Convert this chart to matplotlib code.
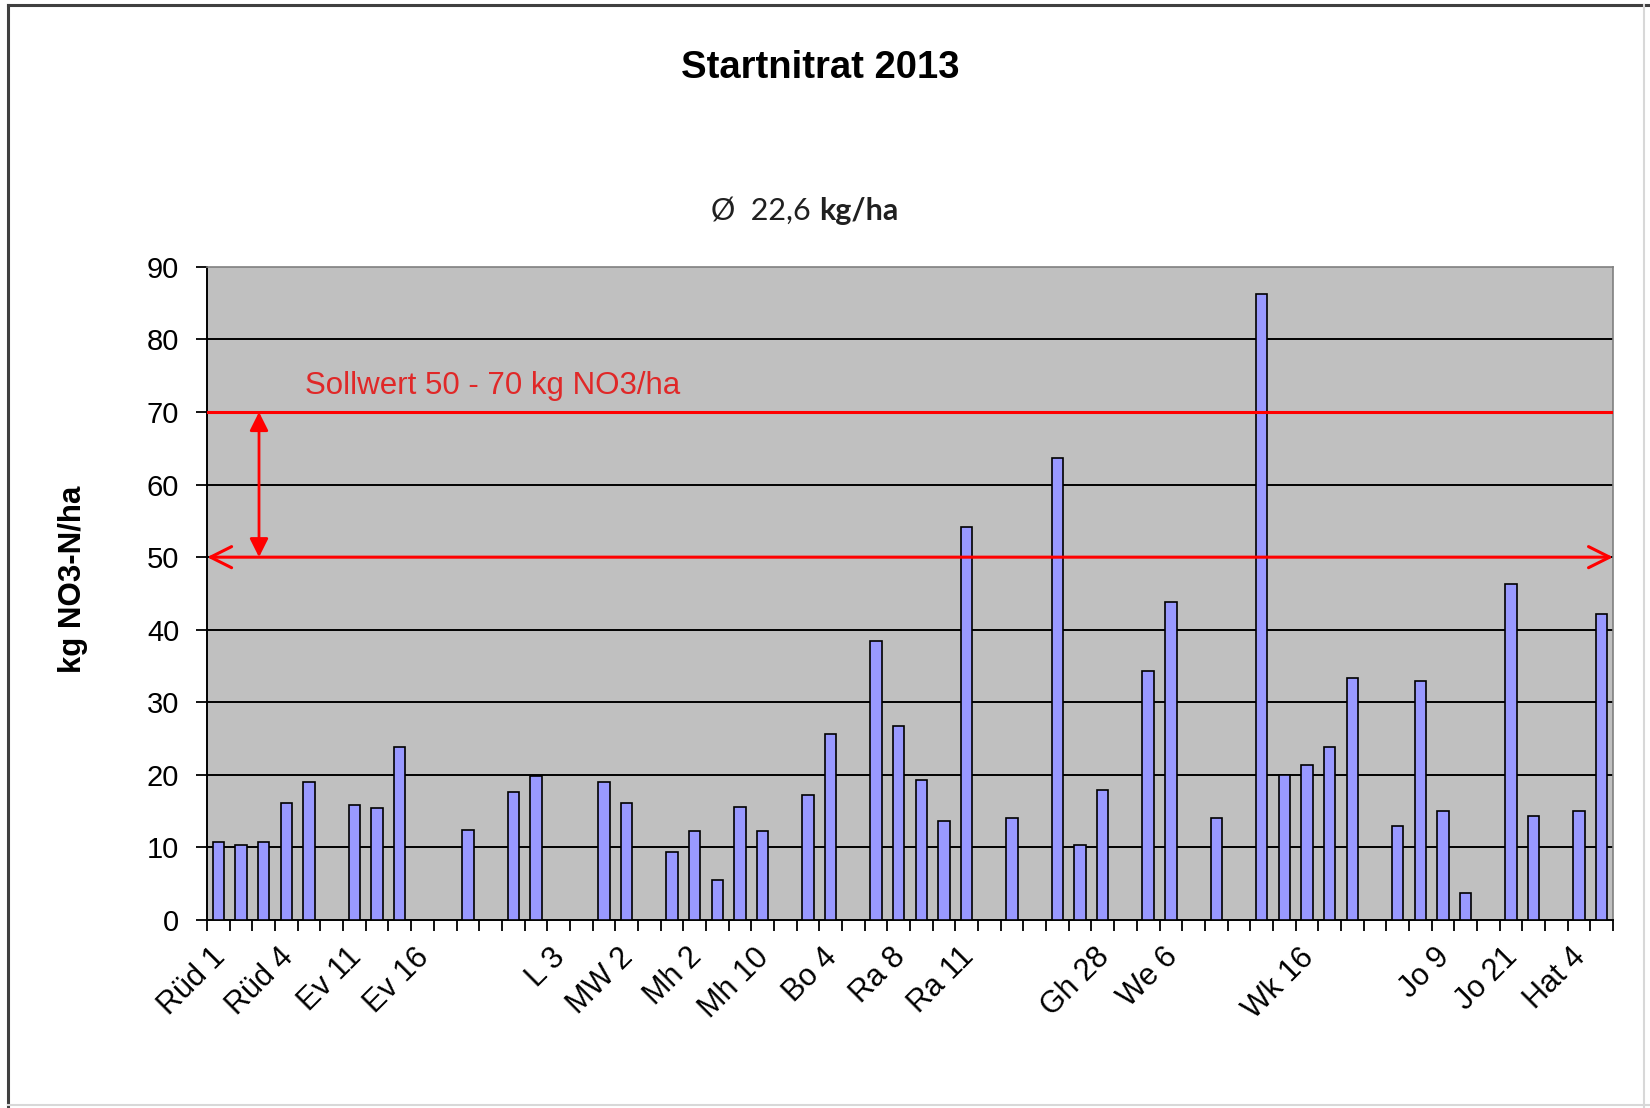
import numpy as np
import matplotlib
matplotlib.use("Agg")
import matplotlib.pyplot as plt
from matplotlib.lines import Line2D
from matplotlib.transforms import ScaledTranslation

plt.rcParams['font.family'] = ['Liberation Sans', 'DejaVu Sans']

# Startnitrat je Schlag (kg NO3-N/ha), None = Leerzeile
nitrat = [10.8, 10.3, 10.8, 16.1, 19.0, None, 15.8, 15.5, 23.8, None,
          None, 12.4, None, 17.7, 19.8, None, None, 19.0, 16.1, None,
          9.3, 12.2, 5.5, 15.6, 12.2, None, 17.2, 25.6, None, 38.5,
          26.7, 19.3, 13.7, 54.1, None, 14.0, None, 63.7, 10.3, 17.9,
          None, 34.3, 43.8, None, 14.0, None, 86.2, 20.0, 21.4, 23.8,
          33.4, None, 12.9, 33.0, 15.0, 3.7, None, 46.3, 14.3, None,
          15.0, 42.2]
# jede dritte Kategorie beschriftet
tick_labels = ["Rüd 1", "Rüd 4", "Ev 11", "Ev 16", "", "L 3", "MW 2",
               "Mh 2", "Mh 10", "Bo 4", "Ra 8", "Ra 11", "", "Gh 28",
               "We 6", "", "Wk 16", "", "Jo 9", "Jo 21", "Hat 4"]
label_step = 3
soll_min, soll_max = 50, 70
mittel = "22,6"

vals = np.array([np.nan if v is None else v for v in nitrat])
x = np.arange(len(vals))

fig = plt.figure(figsize=(16.5, 11.08), dpi=100)
ax = fig.add_axes([0.1255, 0.1697, 0.8521, 0.5894])
ax.set_facecolor('#C0C0C0')

ax.set_ylim(0, 90)
ax.set_xlim(-0.5, len(vals) - 0.5)
ax.set_yticks(range(0, 91, 10))
ax.tick_params(axis='y', labelsize=21, length=8, width=1.3, pad=12, direction='out')
for yv in range(10, 90, 10):
    ax.axhline(yv, color='black', lw=1.4, zorder=1)

ax.bar(x, vals, width=0.5, color='#9999FF', edgecolor='black', lw=1.2, zorder=3)

# Kategoriegrenzen als Ticks, Beschriftung jede dritte Kategorie
ax.set_xticks(np.arange(-0.5, len(vals)), minor=True)
ax.tick_params(axis='x', which='minor', length=8, width=1.3, direction='out')
ax.set_xticks(x[::label_step])
ax.set_xticklabels(tick_labels, rotation=45, ha='right', va='top',
                   rotation_mode='anchor', fontsize=22)
ax.tick_params(axis='x', which='major', length=0, pad=16)
shift = ScaledTranslation(-6 / 72, 0, fig.dpi_scale_trans)
for lab in ax.get_xticklabels():
    lab.set_transform(lab.get_transform() + shift)

for s in ['left', 'bottom']:
    ax.spines[s].set_color('black')
    ax.spines[s].set_linewidth(1.4)
for s in ['top', 'right']:
    ax.spines[s].set_color('#808080')
    ax.spines[s].set_linewidth(1.2)

# Sollwert-Bereich
ax.axhline(soll_max, color='#FF0000', lw=2.2, zorder=4)
ax.annotate('', xy=(-0.5, soll_min), xytext=(len(vals) - 0.5, soll_min),
            arrowprops=dict(arrowstyle='<->', color='#FF0000', lw=2.2,
                            mutation_scale=38, shrinkA=0, shrinkB=0), zorder=4)
ax.annotate('', xy=(1.79, soll_max), xytext=(1.79, soll_min),
            arrowprops=dict(arrowstyle='<|-|>', color='#FF0000', lw=2,
                            mutation_scale=28, shrinkA=0, shrinkB=0), zorder=5)
ax.text(3.8, 73.6, f"Sollwert {soll_min} - {soll_max} kg NO3/ha", color='#E02828',
        fontsize=22.5, ha='left', va='center', zorder=5)

fig.text(0.497, 0.9386, "Startnitrat 2013", fontsize=27.5, fontweight='bold',
         ha='center', va='center')
t1 = fig.text(0.431, 0.810, f"Ø  {mittel} ", fontsize=22, family='Lato',
              ha='left', va='center', color='#202020')
ax.annotate("kg/ha", xy=(1, 0), xycoords=t1, fontsize=22, family='Lato',
            fontweight='bold', ha='left', va='bottom', color='#202020')
fig.text(0.044, 0.4775, "kg NO3-N/ha", fontsize=22.5, fontweight='bold',
         rotation=90, ha='center', va='center')

# Rahmen
fig.add_artist(Line2D([0.005, 0.005], [0.0, 0.9955], color='#404040', lw=2.2))
fig.add_artist(Line2D([0.005, 1.0], [0.9955, 0.9955], color='#404040', lw=2.2))
fig.add_artist(Line2D([0.9965, 0.9965], [0.0, 0.9955], color='#D8D8D8', lw=1.5))
fig.add_artist(Line2D([0.005, 1.0], [0.003, 0.003], color='#D8D8D8', lw=1.5))

fig.savefig("out.png", dpi=100)
